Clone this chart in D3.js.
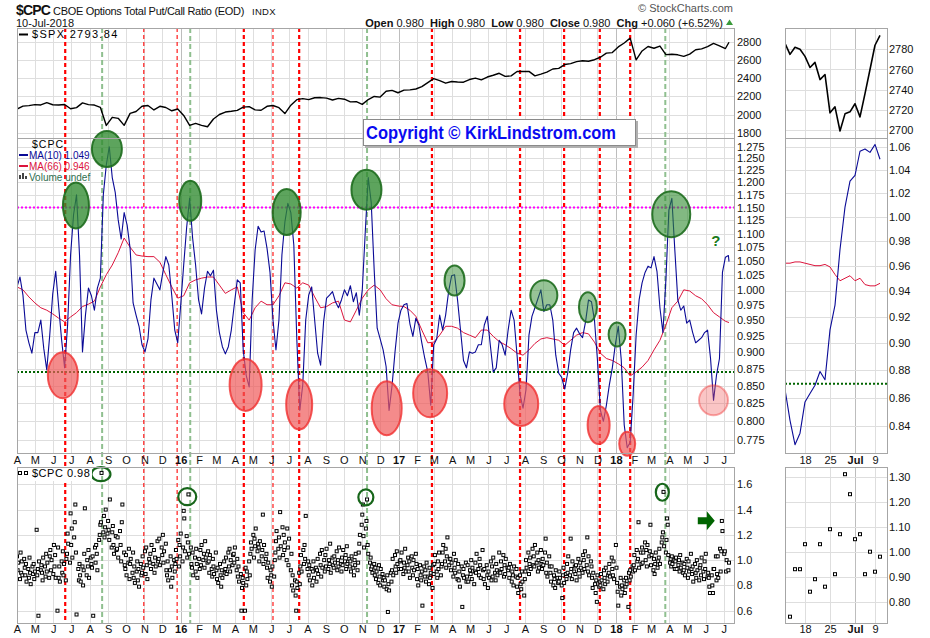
<!DOCTYPE html>
<html>
<head>
<meta charset="utf-8">
<script src="https://cdnjs.cloudflare.com/ajax/libs/d3/7.8.5/d3.min.js"></script>
<style>
  body { margin: 0; background: #fff; }
  svg { display: block; }
</style>
</head>
<body>
<svg id="chart" width="930" height="638"></svg>
<script>
const FONT = '"Liberation Sans", Arial, sans-serif';
const parseDate = d3.utcParse('%Y-%m-%d');
const startDate = parseDate('2015-04-01');
const endDate = parseDate('2018-07-10');

// ---- data ----
// $CPC MA(10), one value every 5 calendar days from 2015-04-01
const ma10Values = [
  1.005,1.022,0.991,0.934,0.914,0.898,0.93,0.93,0.95,0.905,
  0.873,0.926,0.993,1.032,0.972,0.918,0.876,0.942,1.061,1.136,
  1.175,1.061,0.90,0.958,1.003,0.99,0.966,1.003,1.02,1.175,
  1.236,1.275,1.21,1.18,1.126,1.09,1.14,1.116,1.073,0.978,
  0.958,0.94,0.911,0.90,0.92,0.983,1.02,1.01,1.0,1.03,
  1.058,1.043,0.99,0.934,0.914,0.975,1.043,1.112,1.168,1.092,
  1.043,0.983,0.96,1.003,1.032,1.024,1.034,0.966,0.93,0.908,
  0.897,0.908,0.934,0.975,1.017,1.012,0.903,0.865,0.848,0.983,
  1.07,1.114,1.103,1.105,1.073,1.03,0.95,0.903,0.95,1.061,
  1.122,1.158,1.14,1.079,0.92,0.815,0.851,0.95,0.991,1.005,
  0.95,0.898,0.88,0.947,0.986,0.991,0.997,0.98,0.97,0.983,
  1.0,0.99,1.007,0.98,0.995,0.958,1.0,1.103,1.21,1.16,
  1.034,0.937,0.92,0.903,0.878,0.815,0.85,0.9,0.945,0.966,
  0.975,0.977,0.944,0.924,0.953,0.942,0.914,0.89,0.87,0.822,
  0.911,0.92,0.958,0.934,0.958,0.997,1.024,1.026,0.983,0.934,
  0.887,0.876,0.9,0.898,0.9,0.911,0.911,0.942,0.956,0.911,
  0.87,0.876,0.918,0.911,0.895,0.934,0.966,0.95,0.895,0.837,
  0.818,0.844,0.926,0.956,0.97,0.985,1.0,0.964,0.975,0.975,
  0.95,0.895,0.868,0.862,0.845,0.868,0.903,0.93,0.937,0.928,
  0.922,0.947,0.983,0.98,0.95,0.888,0.815,0.80,0.822,0.851,
  0.876,0.911,0.94,0.888,0.795,0.765,0.772,0.837,0.926,0.983,
  1.012,1.03,1.041,1.038,1.058,1.032,0.97,0.93,1.017,1.145,
  1.168,1.07,0.983,0.966,0.973,0.945,0.95,0.93,0.914,0.918,
  0.922,0.93,0.934,0.89,0.829,0.865,0.89,1.03,1.057,1.06
];
// $CPC MA(66), one value every 10 calendar days
const ma66Values = [
  1.005,1.0,0.988,0.978,0.97,0.966,0.96,0.953,0.947,0.955,
  0.962,0.972,0.976,0.981,1.005,1.026,1.043,1.065,1.092,1.075,
  1.061,1.059,1.058,1.058,1.048,1.026,1.005,0.986,0.99,1.012,
  1.017,1.02,1.022,1.022,1.008,0.994,1.0,1.005,0.962,0.95,
  0.97,0.981,0.975,0.975,0.99,1.012,1.01,1.003,1.012,1.008,
  0.988,0.97,0.972,0.978,0.981,0.95,0.947,0.966,0.986,1.0,
  1.008,1.0,0.985,0.975,0.973,0.972,0.966,0.956,0.934,0.914,
  0.915,0.926,0.94,0.94,0.937,0.93,0.926,0.922,0.934,0.934,
  0.924,0.916,0.911,0.905,0.898,0.895,0.903,0.913,0.92,0.922,
  0.92,0.918,0.91,0.918,0.926,0.93,0.928,0.915,0.898,0.89,
  0.887,0.882,0.876,0.864,0.87,0.877,0.887,0.903,0.918,0.942,
  0.97,0.981,1.0,0.998,0.99,0.985,0.975,0.962,0.955,0.948
];
// $SPX close, one value every 10 calendar days
const spxValues = [
  2060,2092,2097,2108,2105,2130,2107,2105,2110,2063,
  2076,2128,2108,2104,2079,1880,1969,1958,1881,2013,
  2033,2090,2099,2050,2090,2077,2041,2060,1990,1880,
  1903,1880,1865,1951,2000,2027,2035,2045,2081,2087,
  2051,2047,2090,2099,2075,2010,2102,2163,2175,2164,
  2184,2186,2180,2159,2177,2168,2139,2141,2111,2164,
  2198,2191,2256,2265,2239,2268,2271,2280,2307,2351,
  2395,2372,2344,2363,2357,2355,2384,2399,2381,2412,
  2431,2453,2419,2425,2473,2472,2474,2425,2444,2465,
  2500,2507,2549,2559,2581,2591,2585,2602,2629,2675,
  2680,2743,2786,2839,2600,2698,2747,2728,2752,2658,
  2662,2656,2639,2663,2711,2721,2746,2782,2755,2725
];
const lastClose = { spx: 2793.84, ma10: 1.049, ma66: 0.946, cpc: 0.98 };

// daily $CPC, one value per weekday from 2015-04-01 (null = holiday)
const cpcDaily = [
  1.03,0.92,0.98,0.85,1.06,0.90,0.99,0.88,1.01,0.94,
  0.88,0.97,0.83,0.93,0.86,1.02,0.90,0.81,0.95,0.89,
  0.97,0.85,0.91,1.24,0.88,0.93,0.56,0.99,0.92,0.96,
  0.90,0.84,1.02,0.95,0.87,1.05,0.91,0.98,0.86,1.03,
  1.08,0.92,1.00,0.89,1.12,0.95,1.04,0.86,0.60,1.10,
  0.86,0.95,0.83,0.99,0.90,1.07,0.88,0.97,0.84,1.01,
  1.05,1.21,1.13,0.98,1.37,1.12,1.25,1.02,1.18,1.30,
  1.44,1.06,0.57,0.93,0.84,0.97,0.88,0.83,0.95,0.80,
  0.92,1.05,1.41,0.88,1.00,0.95,1.08,0.86,1.02,0.97,
  0.94,1.03,0.56,1.10,0.98,1.12,1.05,0.92,1.16,1.20,
  1.28,1.30,1.69,1.22,1.35,1.18,1.26,1.40,1.21,1.31,
  1.24,1.16,1.48,1.10,1.22,1.27,1.12,1.05,1.19,1.08,
  1.09,1.18,1.02,1.23,1.12,0.99,1.30,1.44,1.06,0.96,
  0.93,1.04,0.88,0.98,1.09,0.85,0.97,1.01,0.90,1.06,
  0.86,0.95,0.82,0.91,0.99,0.84,0.93,0.79,0.97,0.88,
  0.90,1.03,0.94,1.07,0.89,1.10,0.96,0.85,1.01,0.98,
  1.05,0.93,1.12,0.97,1.08,0.90,1.02,0.95,1.15,0.99,
  1.01,1.17,0.96,1.10,1.04,1.20,0.98,1.07,1.13,0.92,
  0.88,0.99,0.84,0.92,1.03,0.79,0.95,0.86,1.00,0.91,
  0.97,1.08,1.01,1.16,0.95,1.12,1.03,1.21,0.99,1.10,
  1.39,1.33,1.07,1.19,1.02,1.14,1.52,1.05,1.10,0.97,
  0.94,1.06,0.88,1.02,0.91,1.09,0.97,0.86,1.01,0.93,
  1.08,0.96,1.12,1.00,1.05,0.94,1.15,1.02,0.98,1.07,
  0.99,0.90,1.04,0.93,0.87,1.01,0.95,0.89,1.06,0.92,
  0.85,0.94,0.82,0.97,0.88,0.79,0.92,0.86,0.99,0.90,
  0.93,1.02,0.89,1.06,0.95,1.09,0.91,1.00,0.96,1.04,
  1.05,0.98,1.10,0.92,1.01,0.87,0.95,0.83,0.89,0.60,
  0.78,0.86,0.82,0.60,0.94,0.80,0.91,0.85,0.99,0.88,
  1.05,1.14,1.09,1.20,1.02,1.17,1.11,1.25,1.07,1.13,
  1.10,0.99,1.15,1.03,1.08,1.36,0.97,1.12,1.01,1.05,
  0.94,0.86,0.98,0.83,0.92,0.88,0.79,0.95,0.87,1.00,
  1.06,1.15,1.23,1.09,1.18,1.02,1.38,1.11,1.26,1.04,
  1.20,1.08,1.14,1.00,1.25,1.10,0.96,1.17,0.92,1.05,
  0.80,0.88,0.76,0.84,0.72,0.60,0.83,0.78,0.90,0.81,
  0.95,1.04,0.91,1.08,0.97,1.12,1.01,1.35,0.93,0.99,
  0.88,0.96,0.84,0.93,0.80,0.91,0.99,0.86,0.94,0.83,
  0.92,1.01,0.89,1.05,0.96,0.87,1.08,0.94,1.00,0.91,
  1.04,0.95,1.09,0.93,1.00,0.97,1.13,0.90,1.02,0.96,
  0.94,1.03,0.98,1.07,0.92,1.00,0.95,1.10,0.97,0.91,
  1.02,0.96,1.08,0.99,1.04,0.93,1.11,0.97,1.01,0.95,
  0.99,0.91,1.03,0.94,0.88,1.00,0.96,1.05,0.92,0.98,
  1.06,1.13,1.20,1.28,1.36,1.44,1.19,1.10,1.25,1.31,
  1.48,1.12,1.05,0.98,1.02,0.93,0.95,0.90,0.97,0.88,
  0.94,0.85,0.91,0.82,0.96,0.87,0.80,0.93,0.89,0.84,
  0.86,0.79,0.84,0.77,0.88,0.59,0.81,0.76,0.90,0.83,
  0.92,1.01,0.88,1.04,0.95,0.90,1.07,0.97,0.93,0.99,
  1.00,0.93,1.06,0.89,0.98,0.94,1.09,0.91,0.96,1.02,
  0.91,0.99,0.86,1.03,0.94,0.88,1.00,0.92,1.05,0.97,
  0.85,0.93,0.80,0.96,0.88,0.84,0.91,0.64,0.95,0.87,
  0.92,0.83,0.98,0.87,0.81,0.94,0.86,0.90,0.78,0.96,
  0.89,0.97,1.04,0.91,0.86,0.99,0.93,1.06,0.88,0.95,
  0.97,1.06,1.12,0.99,1.09,0.94,1.03,1.18,0.96,1.01,
  1.01,0.92,0.98,0.87,1.05,0.94,0.90,1.00,0.85,0.97,
  0.84,0.91,0.79,0.95,0.63,0.88,0.93,0.86,0.98,0.83,
  0.87,0.96,0.83,0.92,0.89,1.00,0.85,0.94,0.81,0.91,
  0.98,0.90,1.05,0.93,0.88,1.01,0.96,0.86,1.08,0.92,
  0.85,0.93,0.81,0.96,0.88,0.78,0.91,0.86,0.99,0.84,
  0.95,0.87,1.02,0.90,0.84,0.97,0.92,0.88,1.06,0.91,
  0.90,0.99,0.93,1.04,0.87,0.96,0.89,1.01,0.94,0.92,
  0.94,0.86,0.97,0.83,0.91,0.88,0.80,0.95,0.87,0.93,
  0.79,0.86,0.74,0.88,0.81,0.77,0.91,0.83,0.72,0.85,
  0.91,1.00,0.94,1.06,0.89,0.97,1.02,0.93,1.09,0.96,
  1.03,0.95,1.12,0.98,1.06,0.91,1.00,0.94,1.08,0.97,
  0.93,1.01,0.96,1.06,1.17,0.90,0.98,0.87,1.03,0.95,
  0.90,0.83,0.95,0.80,0.88,0.85,0.78,0.92,0.86,0.82,
  0.83,0.91,0.86,0.80,0.70,0.88,0.94,0.82,0.89,0.85,
  0.97,0.90,1.03,0.88,1.17,0.93,0.85,0.99,0.91,0.95,
  0.89,0.96,0.84,1.01,0.92,0.87,0.98,0.94,0.90,1.04,
  1.00,0.93,1.07,0.96,1.18,0.91,1.03,0.88,0.99,0.95,
  0.86,0.78,0.90,0.81,0.74,0.84,0.67,0.88,0.79,0.83,
  0.80,0.89,0.84,0.77,0.92,0.86,0.81,0.94,0.83,0.88,
  0.90,0.97,0.87,1.02,0.93,0.88,0.99,0.85,1.12,0.94,
  0.82,0.75,0.64,0.79,0.86,0.72,0.80,0.77,0.84,0.74,
  0.79,0.86,0.81,0.63,0.90,0.84,0.92,0.87,0.95,0.91,
  0.96,1.04,0.92,1.08,0.99,1.01,1.30,0.94,1.06,0.97,
  1.10,0.98,1.06,1.14,1.00,1.08,0.95,1.12,1.03,1.07,
  1.28,0.96,1.04,0.92,1.01,0.89,0.97,1.06,0.94,0.99,
  1.02,1.09,0.97,1.14,1.18,1.22,1.54,1.11,1.06,1.16,
  1.33,1.28,1.04,0.98,1.01,0.95,1.03,0.97,1.00,0.93,
  0.99,1.02,0.93,0.96,1.00,0.91,1.04,0.94,0.98,0.90,
  0.92,0.97,0.88,1.01,0.94,0.86,0.99,0.91,1.05,0.93,
  0.89,0.95,0.83,0.97,0.90,0.86,1.00,0.92,0.84,0.94,
  0.96,0.88,1.02,0.91,0.85,0.99,0.93,1.05,0.87,0.90,
  0.86,0.79,0.74,0.88,0.80,0.74,0.93,0.93,1.03,0.84,
  0.89,1.03,0.86,1.09,0.91,1.07,1.31,1.23,1.05,1.07,
  null,0.91,1.00,0.92,0.98
];

// last 20 trading days (side panels)
const recentDays = ['2018-06-12','2018-06-13','2018-06-14','2018-06-15','2018-06-18','2018-06-19',
  '2018-06-20','2018-06-21','2018-06-22','2018-06-25','2018-06-26','2018-06-27','2018-06-28',
  '2018-06-29','2018-07-02','2018-07-03','2018-07-05','2018-07-06','2018-07-09','2018-07-10'];
const recentSpx = [2786,2775,2782,2780,2773,2762,2767,2750,2755,2717,2723,2699,2716,2718,2726,2713,2736,2760,2784,2793.84];
const recentMa10 = [0.866,0.844,0.827,0.835,0.857,0.863,0.869,0.879,0.873,0.91,0.929,0.973,1.008,1.03,1.035,1.056,1.058,1.055,1.062,1.049];
const recentMa66 = [0.962,0.962,0.963,0.963,0.962,0.961,0.96,0.96,0.961,0.959,0.953,0.948,0.95,0.952,0.948,0.95,0.945,0.944,0.944,0.946];
const recentCpc = [null,0.74,0.93,0.93,1.03,0.84,0.89,1.03,0.86,1.09,0.91,1.07,1.31,1.23,1.05,1.07,0.91,1.00,0.92,0.98];
const recentTicks = ['2018-06-18','2018-06-25','2018-07-02','2018-07-09'];
const recentTickLabels = ['18','25','Jul','9'];

// tick values
const spxTicks = [1800,2000,2200,2400,2600,2800];
const cpcTicks = [0.775,0.8,0.825,0.85,0.875,0.9,0.925,0.95,0.975,1.0,1.025,1.05,1.075,1.1,1.125,1.15,1.175,1.2,1.225,1.25,1.275];
const dotTicks = [0.6,0.8,1.0,1.2,1.4,1.6];
const sideSpxTicks = [2700,2720,2740,2760,2780];
const sideCpcTicks = [0.84,0.86,0.88,0.9,0.92,0.94,0.96,0.98,1.0,1.02,1.04,1.06];
const sideDotTicks = [0.8,0.9,1.0,1.1,1.2,1.3];
const monthLetters = 'JFMAMJJASOND';

// annotations
const upperLevel = 1.15, lowerLevel = 0.87;
const redThickDates = ['2015-06-21','2016-04-16','2016-07-18','2017-02-26','2017-07-24','2017-10-06','2017-12-05','2018-01-25'];
const redThinDates = ['2015-10-31','2015-12-26','2016-06-04'];
const greenDates = ['2015-08-22','2016-01-17','2016-11-09','2018-03-25'];
const greenMarks = [['2015-07-09',1.154],['2015-08-30',1.27],['2016-01-17',1.163],['2016-06-27',1.141],['2016-11-08',1.185],
  ['2017-04-05',1.016],['2017-09-02',0.991],['2017-11-15',0.971],['2018-01-03',0.927],['2018-04-04',1.137]];
const redMarks = [['2015-06-17',0.865],['2016-04-19',0.851],['2016-07-18',0.823],['2016-12-12',0.818],['2017-02-23',0.839],
  ['2017-07-26',0.824],['2017-12-03',0.795],['2018-01-20',0.77],['2018-06-14',0.829]];
const dotMarks = [['2015-08-20',1.68],['2016-01-12',1.502],['2016-11-07',1.497],['2018-03-20',1.537]];
const arrowMark = ['2018-06-01', 1.312];
const questionMark = ['2018-06-18', 1.086];

// mark sizes / shades (pixels)
const greenSizes = [[13,23],[15,18],[11,20],[14,23],[15,20],[10,15],[13.5,15],[9,15],[8.5,12],[19,23]];
const greenShade = [0.78,0.78,0.78,0.78,0.78,0.5,0.5,0.5,0.5,0.6];
const redSizes = [[15,23],[16,26],[13,25],[15,27],[17,24],[17,22],[11,19],[8,12],[14.5,15]];
const dotSizes = [[9.5,7],[9,8.5],[7.5,8],[6.5,8.5]];

// ---- layout ----
const panels = {
  spx: [17, 28, 734, 138], cpc: [17, 138, 734, 453], dot: [17, 467, 734, 623],
  sSpx: [785, 28, 887, 138], sCpc: [785, 138, 887, 453], sDot: [785, 467, 887, 623]
};

const x = d3.scaleUtc().domain([startDate, endDate]).range([17, 729]);
const ySpx = d3.scaleLinear().domain([1800, 2800]).range([132.7, 41.7]);
const yCpc = d3.scaleLog().domain([0.775, 1.275]).range([440, 146.7]);
const yDot = d3.scaleLinear().domain([0.6, 1.6]).range([610.7, 484.3]);
const xSide = d3.scalePoint().domain(recentDays).range([785, 880]);
const ySideSpx = d3.scaleLinear().domain([2700, 2780]).range([130, 49.3]);
const ySideCpc = d3.scaleLog().domain([0.84, 1.06]).range([426, 146.7]);
const ySideDot = d3.scaleLinear().domain([0.8, 1.3]).range([601.7, 476.7]);

const svg = d3.select('#chart').attr('font-family', FONT);
svg.append('rect').attr('width', 930).attr('height', 638).attr('fill', '#fff');

const defs = svg.append('defs');
Object.entries(panels).forEach(([id, p]) => {
  defs.append('clipPath').attr('id', 'clip-' + id).append('rect')
    .attr('x', p[0]).attr('y', p[1]).attr('width', p[2] - p[0]).attr('height', p[3] - p[1]);
});

// series with dates
const seriesEvery = (values, step) => values.map((v, i) => [d3.utcDay.offset(startDate, i * step), v]);
const ma10 = seriesEvery(ma10Values, 5).concat([[endDate, lastClose.ma10]]);
const ma66 = seriesEvery(ma66Values, 10).concat([[endDate, lastClose.ma66]]);
const spx = seriesEvery(spxValues, 10).concat([[endDate, lastClose.spx]]);
const weekdays = d3.utcDay.range(startDate, d3.utcDay.offset(endDate, 1))
  .filter(d => d.getUTCDay() !== 0 && d.getUTCDay() !== 6);
const daily = weekdays.map((d, i) => [d, cpcDaily[i]]).filter(d => d[1] != null);
const recentDaily = recentDays.map((d, i) => [d, recentCpc[i]]).filter(d => d[1] != null);

// ---- grid ----
const months = d3.utcMonth.range(startDate, d3.utcDay.offset(endDate, 1));
const grid = svg.append('g').attr('shape-rendering', 'crispEdges');
['spx', 'cpc', 'dot'].forEach(id => {
  const p = panels[id];
  grid.append('g').selectAll('line').data(months).join('line')
    .attr('x1', d => Math.round(x(d)) + 0.5).attr('x2', d => Math.round(x(d)) + 0.5)
    .attr('y1', p[1]).attr('y2', p[3])
    .attr('stroke', d => d.getUTCMonth() === 0 ? '#bdbdbd' : '#dedede');
});
['sSpx', 'sCpc', 'sDot'].forEach(id => {
  const p = panels[id];
  grid.append('g').selectAll('line').data(recentTicks).join('line')
    .attr('x1', d => xSide(d)).attr('x2', d => xSide(d))
    .attr('y1', p[1]).attr('y2', p[3])
    .attr('stroke', d => d === '2018-07-02' ? '#bdbdbd' : '#dedede');
});
function hGrid(p, scale, ticks) {
  grid.append('g').selectAll('line').data(ticks).join('line')
    .attr('x1', p[0]).attr('x2', p[2])
    .attr('y1', d => Math.round(scale(d)) + 0.5).attr('y2', d => Math.round(scale(d)) + 0.5)
    .attr('stroke', '#dedede');
}
hGrid(panels.spx, ySpx, spxTicks);
hGrid(panels.cpc, yCpc, cpcTicks);
hGrid(panels.dot, yDot, dotTicks);
hGrid(panels.sSpx, ySideSpx, sideSpxTicks);
hGrid(panels.sCpc, ySideCpc, sideCpcTicks);
hGrid(panels.sDot, ySideDot, sideDotTicks);

// ---- signal lines ----
const sig = svg.append('g');
function signalLines(dates, color, width, dash) {
  sig.append('g').selectAll('line').data(dates).join('line')
    .attr('x1', d => x(parseDate(d))).attr('x2', d => x(parseDate(d)))
    .attr('y1', 28).attr('y2', 623)
    .attr('stroke', color).attr('stroke-width', width).attr('stroke-dasharray', dash);
}
signalLines(greenDates, '#8fbf8f', 2, '5,3');
signalLines(redThinDates, '#ff1a1a', 1.2, '4,3');
signalLines(redThickDates, '#ff0000', 2.2, '4,3');

// threshold levels
const levels = svg.append('g');
levels.append('line').attr('x1', 17).attr('x2', 734)
  .attr('y1', yCpc(upperLevel)).attr('y2', yCpc(upperLevel))
  .attr('stroke', '#ff00ff').attr('stroke-width', 2).attr('stroke-dasharray', '2,2');
levels.append('line').attr('x1', 17).attr('x2', 734)
  .attr('y1', yCpc(lowerLevel)).attr('y2', yCpc(lowerLevel))
  .attr('stroke', '#006400').attr('stroke-width', 2).attr('stroke-dasharray', '2,2');
levels.append('line').attr('x1', 785).attr('x2', 887)
  .attr('y1', ySideCpc(lowerLevel)).attr('y2', ySideCpc(lowerLevel))
  .attr('stroke', '#006400').attr('stroke-width', 2).attr('stroke-dasharray', '2,2');

// ---- lines ----
function drawLine(data, xs, ys, clipId, color, width) {
  svg.append('path').datum(data)
    .attr('clip-path', `url(#clip-${clipId})`)
    .attr('fill', 'none').attr('stroke', color).attr('stroke-width', width)
    .attr('stroke-linejoin', 'round')
    .attr('d', d3.line().x(d => xs(d[0])).y(d => ys(d[1])));
}
drawLine(spx, x, ySpx, 'spx', '#000', 1.4);
drawLine(ma66, x, yCpc, 'cpc', '#dc143c', 1);
drawLine(ma10, x, yCpc, 'cpc', '#0a0a96', 1.1);
drawLine(recentDays.map((d, i) => [d, recentSpx[i]]), xSide, ySideSpx, 'sSpx', '#000', 1.6);
drawLine(recentDays.map((d, i) => [d, recentMa66[i]]), xSide, ySideCpc, 'sCpc', '#dc143c', 1);
drawLine(recentDays.map((d, i) => [d, recentMa10[i]]), xSide, ySideCpc, 'sCpc', '#0a0a96', 1.1);

// ---- scatter ----
function drawDots(data, xs, ys, clipId) {
  svg.append('g').attr('clip-path', `url(#clip-${clipId})`)
    .selectAll('rect').data(data).join('rect')
    .attr('x', d => xs(d[0]) - 1.5).attr('y', d => ys(d[1]) - 1.5)
    .attr('width', 3).attr('height', 3)
    .attr('fill', '#fff').attr('stroke', '#000').attr('stroke-width', 1);
}
drawDots(daily, x, yDot, 'dot');
drawDots(recentDaily, xSide, ySideDot, 'sDot');

// ---- marks ----
const marks = svg.append('g');
marks.selectAll('.gm').data(greenMarks).join('ellipse')
  .attr('cx', d => x(parseDate(d[0]))).attr('cy', d => yCpc(d[1]))
  .attr('rx', (d, i) => greenSizes[i][0]).attr('ry', (d, i) => greenSizes[i][1])
  .attr('fill', '#2f8a2f').attr('fill-opacity', (d, i) => greenShade[i])
  .attr('stroke', '#1d6b1d').attr('stroke-width', 2).attr('stroke-opacity', 0.9);
marks.selectAll('.rm').data(redMarks).join('ellipse')
  .attr('cx', d => x(parseDate(d[0]))).attr('cy', d => yCpc(d[1]))
  .attr('rx', (d, i) => redSizes[i][0]).attr('ry', (d, i) => redSizes[i][1])
  .attr('fill', '#f05a5a').attr('fill-opacity', (d, i) => i === redMarks.length - 1 ? 0.35 : 0.7)
  .attr('stroke', '#f03030').attr('stroke-width', 2)
  .attr('stroke-opacity', (d, i) => i === redMarks.length - 1 ? 0.4 : 0.8);
marks.selectAll('.dm').data(dotMarks).join('ellipse')
  .attr('cx', d => x(parseDate(d[0]))).attr('cy', d => yDot(d[1]))
  .attr('rx', (d, i) => dotSizes[i][0]).attr('ry', (d, i) => dotSizes[i][1])
  .attr('fill', 'none').attr('stroke', '#17661a').attr('stroke-width', 2.2);

const ax = x(parseDate(arrowMark[0])), ay = yDot(arrowMark[1]);
marks.append('path')
  .attr('d', `M${ax - 8},${ay - 3.5}h9v-6l8,9.5l-8,9.5v-6h-9z`)
  .attr('fill', '#006400');
marks.append('text')
  .attr('x', x(parseDate(questionMark[0]))).attr('y', yCpc(questionMark[1]) + 5)
  .attr('text-anchor', 'middle').attr('font-size', 15).attr('font-weight', 'bold')
  .attr('fill', '#1a7a1a').text('?');

// ---- panel frames ----
const frames = svg.append('g').attr('shape-rendering', 'crispEdges');
Object.values(panels).forEach(p => {
  frames.append('rect').attr('x', p[0] + 0.5).attr('y', p[1] + 0.5)
    .attr('width', p[2] - p[0]).attr('height', p[3] - p[1])
    .attr('fill', 'none').attr('stroke', '#a6a6a6');
});

// ---- axes ----
function yAxis(scale, ticks, fmt, xPos) {
  const g = svg.append('g').attr('transform', `translate(${xPos},0)`)
    .call(d3.axisRight(scale).tickValues(ticks).tickFormat(fmt).tickSize(0).tickPadding(3));
  g.select('.domain').remove();
  g.attr('font-size', 11).attr('font-family', FONT);
  g.selectAll('text').attr('fill', '#111');
}
yAxis(ySpx, spxTicks, d3.format('d'), 734);
yAxis(yCpc, cpcTicks, d3.format('.3f'), 734);
yAxis(yDot, dotTicks, d3.format('.1f'), 734);
yAxis(ySideSpx, sideSpxTicks, d3.format('d'), 886);
yAxis(ySideCpc, sideCpcTicks, d3.format('.2f'), 886);
yAxis(ySideDot, sideDotTicks, d3.format('.2f'), 886);

const monthFmt = d => d.getUTCMonth() === 0 ? d3.utcFormat('%y')(d) : monthLetters[d.getUTCMonth()];
function monthAxis(yPos) {
  const g = svg.append('g').attr('transform', `translate(0,${yPos})`)
    .call(d3.axisBottom(x).tickValues(months).tickFormat(monthFmt).tickSize(0).tickPadding(1));
  g.select('.domain').remove();
  g.attr('font-size', 11).attr('font-family', FONT);
  g.selectAll('text').attr('fill', '#111')
    .attr('font-weight', d => d.getUTCMonth() === 0 ? 'bold' : null);
  const s = svg.append('g').attr('transform', `translate(0,${yPos})`)
    .call(d3.axisBottom(xSide).tickValues(recentTicks)
      .tickFormat((d, i) => recentTickLabels[i]).tickSize(0).tickPadding(1));
  s.select('.domain').remove();
  s.attr('font-size', 11).attr('font-family', FONT);
  s.selectAll('text').attr('fill', '#111')
    .attr('font-weight', d => d === '2018-07-02' ? 'bold' : null);
}
monthAxis(455);
monthAxis(624);

// ---- legends ----
const lg = svg.append('g').attr('font-size', 11);
lg.append('line').attr('x1', 19).attr('x2', 28).attr('y1', 34.5).attr('y2', 34.5)
  .attr('stroke', '#000').attr('stroke-width', 2);
lg.append('text').attr('x', 32).attr('y', 38).attr('letter-spacing', 1.3)
  .text('$SPX ' + lastClose.spx.toFixed(2));

lg.append('text').attr('x', 32).attr('y', 148).attr('font-size', 10.5).attr('letter-spacing', 1)
  .text('$CPC');
lg.append('line').attr('x1', 19).attr('x2', 28).attr('y1', 155).attr('y2', 155)
  .attr('stroke', '#0a0a96').attr('stroke-width', 2);
lg.append('text').attr('x', 29).attr('y', 158.5).attr('font-size', 10).attr('fill', '#0a0a96')
  .text('MA(10) ' + lastClose.ma10.toFixed(3));
lg.append('line').attr('x1', 19).attr('x2', 28).attr('y1', 166).attr('y2', 166)
  .attr('stroke', '#dc143c').attr('stroke-width', 2);
lg.append('text').attr('x', 29).attr('y', 169.5).attr('font-size', 10).attr('fill', '#dc143c')
  .text('MA(66) ' + lastClose.ma66.toFixed(3));
[[19, 4], [22, 6], [25, 3]].forEach(b => {
  lg.append('rect').attr('x', b[0]).attr('y', 179 - b[1]).attr('width', 2).attr('height', b[1]).attr('fill', '#444');
});
lg.append('text').attr('x', 29).attr('y', 180.5).attr('font-size', 10).attr('fill', '#2e6e4e')
  .text('Volume undef');

lg.append('rect').attr('x', 18).attr('y', 468).attr('width', 74).attr('height', 13).attr('fill', '#fff');
[20, 26].forEach(px => {
  lg.append('rect').attr('x', px - 1.5).attr('y', 471.5).attr('width', 3).attr('height', 3)
    .attr('fill', '#fff').attr('stroke', '#000');
});
lg.append('text').attr('x', 32).attr('y', 477).attr('letter-spacing', 0.5)
  .text('$CPC ' + lastClose.cpc.toFixed(2));

// ---- header ----
const hd = svg.append('g').attr('fill', '#111');
hd.append('text').attr('x', 16).attr('y', 14.5).attr('font-size', 14).attr('font-weight', 'bold')
  .attr('letter-spacing', -0.8).text('$CPC');
hd.append('text').attr('x', 53).attr('y', 14.5).attr('font-size', 11).attr('letter-spacing', -0.3)
  .text('CBOE Options Total Put/Call Ratio (EOD)');
hd.append('text').attr('x', 252).attr('y', 14.5).attr('font-size', 9.5).attr('letter-spacing', 0.3)
  .text('INDX');
hd.append('text').attr('x', 16).attr('y', 26.5).attr('font-size', 11).text('10-Jul-2018');
hd.append('text').attr('x', 733).attr('y', 12).attr('font-size', 11).attr('fill', '#555')
  .attr('text-anchor', 'end').text('\u00a9 StockCharts.com');
const ohlc = hd.append('text').attr('x', 723).attr('y', 26.5).attr('font-size', 11).attr('text-anchor', 'end')
  .attr('xml:space', 'preserve');
[['Open', '0.980'], ['High', '0.980'], ['Low', '0.980'], ['Close', '0.980'], ['Chg', '+0.060 (+6.52%)']]
  .forEach((p, i) => {
    ohlc.append('tspan').attr('font-weight', 'bold').text((i ? '  ' : '') + p[0]);
    ohlc.append('tspan').text(' ' + p[1]);
  });
hd.append('path').attr('d', 'M726,25L729.5,19.5L733,25Z').attr('fill', '#3a9a3a');

// ---- copyright box ----
const cb = svg.append('g');
cb.append('rect').attr('x', 365).attr('y', 121).attr('width', 273).attr('height', 27).attr('fill', '#b0b0b0');
cb.append('rect').attr('x', 363.5).attr('y', 119.5).attr('width', 272).attr('height', 26)
  .attr('fill', '#fff').attr('stroke', '#8a8a8a');
cb.append('text').attr('x', 366).attr('y', 139).attr('font-size', 17.5).attr('font-weight', 'bold')
  .attr('fill', '#0a0af0').attr('textLength', 250).attr('lengthAdjust', 'spacingAndGlyphs')
  .text('Copyright \u00a9 KirkLindstrom.com');
</script>
</body>
</html>
